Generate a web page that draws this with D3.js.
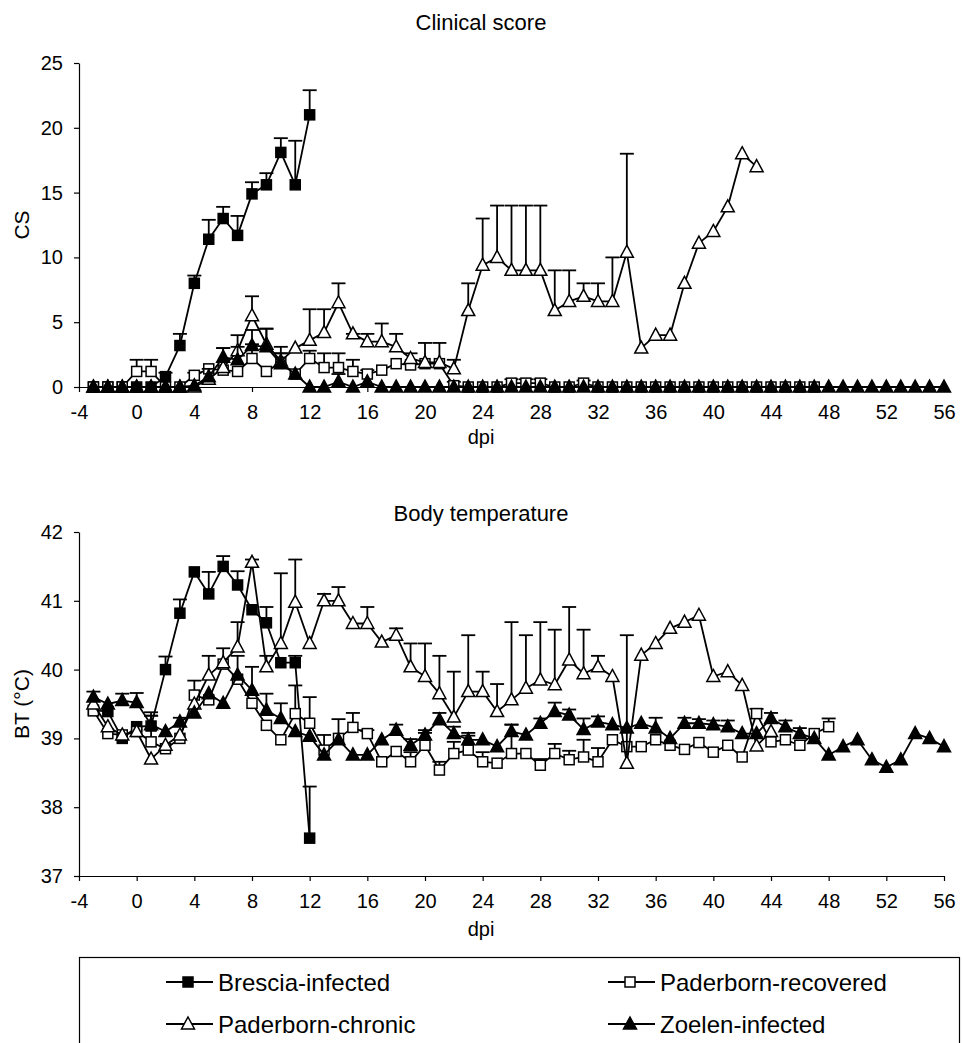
<!DOCTYPE html>
<html>
<head>
<meta charset="utf-8">
<script src="https://cdn.jsdelivr.net/npm/d3@7"></script>
<style>
body { margin: 0; background: #fff; }
text { font-family: "Liberation Sans", Arial, sans-serif; fill: #000; }
</style>
</head>
<body>
<script>
// ---- data ----
var dpi_ticks = [-4, 0, 4, 8, 12, 16, 20, 24, 28, 32, 36, 40, 44, 48, 52, 56];
var cs_ticks = [0, 5, 10, 15, 20, 25];
var bt_ticks = [37, 38, 39, 40, 41, 42];
var series_names = ["Brescia-infected", "Paderborn-recovered", "Paderborn-chronic", "Zoelen-infected"];

// clinical score
var cs_dpi_brescia = [-3,-2,-1,0,1,2,3,4,5,6,7,8,9,10,11,12];
var cs_brescia     = [0,0,0,0,0,0.8,3.2,8.0,11.4,13.0,11.7,14.9,15.6,18.1,15.6,21.0];
var cs_brescia_err = [null,null,null,null,null,1.1,4.1,8.6,12.9,13.9,13.2,15.8,16.5,19.2,19.0,22.9];

var cs_dpi_recovered = [-3,-2,-1,0,1,2,3,4,5,6,7,8,9,10,11,12,13,14,15,16,17,18,19,20,21,22,23,24,25,26,27,28,29,30,31,32,33,34,35,36,37,38,39,40,41,42,43,44,45,46,47];
var cs_recovered     = [0,0,0,1.2,1.2,0,0,0.9,1.4,1.3,1.2,2.2,1.2,1.9,1.0,2.2,1.5,1.5,1.2,1.0,1.3,1.8,1.7,1.8,1.8,0.1,0,0,0,0.3,0.3,0.3,0,0,0.3,0,0,0,0,0,0,0,0,0,0,0,0,0,0,0,0];
var cs_recovered_err = [null,null,null,2.1,2.1,null,null,1.1,null,3.0,null,3.3,null,2.6,null,2.8,2.6,2.6,2.1,1.3,null,null,null,null,null,0.4,null,null,null,0.6,0.6,0.6,null,null,0.5,null,null,null,null,null,null,null,null,null,null,null,null,null,null,null,null];

var cs_dpi_chronic = [-3,-2,-1,0,1,2,3,4,5,6,7,8,9,10,11,12,13,14,15,16,17,18,19,20,21,22,23,24,25,26,27,28,29,30,31,32,33,34,35,36,37,38,39,40,41,42,43];
var cs_chronic     = [0,0,0,0,0,0,0,0,0.6,1.5,2.8,5.5,3.3,2.0,3.0,3.6,4.2,6.5,4.1,3.5,3.5,3.1,2.2,1.9,1.9,1.4,5.9,9.4,10.0,9.0,9.0,9.0,5.9,6.6,7.0,6.6,6.6,10.4,3.0,4.0,4.0,8.0,11.1,12.0,13.9,18.0,17.0];
var cs_chronic_err = [null,null,null,null,null,null,null,null,null,null,4.0,7.0,4.5,3.1,null,6.0,6.0,8.0,4.1,4.1,4.9,4.1,2.6,3.4,3.4,2.1,8.0,13.0,14.0,14.0,14.0,14.0,9.0,9.0,8.0,8.0,10.0,18.0,null,null,null,null,null,null,null,null,null];

var cs_dpi_zoelen = [-3,-2,-1,0,1,2,3,4,5,6,7,8,9,10,11,12,13,14,15,16,17,18,19,20,21,22,23,24,25,26,27,28,29,30,31,32,33,34,35,36,37,38,39,40,41,42,43,44,45,46,47,48,49,50,51,52,53,54,55,56];
var cs_zoelen     = [0,0,0,0,0,0,0,0.1,0.8,2.3,2.1,3.2,3.1,1.8,1.0,0,0,0.4,0,0.4,0,0,0,0,0,0,0,0,0,0,0,0,0,0,0,0,0,0,0,0,0,0,0,0,0,0,0,0,0,0,0,0,0,0,0,0,0,0,0,0];
var cs_zoelen_err = [null,null,null,null,null,null,null,null,1.4,3.0,3.1,4.4,4.5,2.6,null,null,null,1.0,null,null,null,null,null,null,null,null,null,null,null,null,null,null,null,null,null,null,null,null,null,null,null,null,null,null,null,null,null,null,null,null,null,null,null,null,null,null,null,null,null,null];

// body temperature
var bt_dpi_brescia = [-3,-2,-1,0,1,2,3,4,5,6,7,8,9,10,11,12];
var bt_brescia     = [39.41,39.39,39.0,39.17,39.18,40.0,40.82,41.42,41.1,41.5,41.23,40.87,40.68,40.1,40.1,37.55];
var bt_brescia_err = [null,null,null,null,39.38,40.19,41.02,null,41.42,41.65,41.43,null,40.91,null,40.2,38.3];

var bt_dpi_recovered = [-3,-2,-1,0,1,2,3,4,5,6,7,8,9,10,11,12,13,14,15,16,17,18,19,20,21,22,23,24,25,26,27,28,29,30,31,32,33,34,35,36,37,38,39,40,41,42,43,44,45,46,47,48];
var bt_recovered     = [39.4,39.07,39.05,39.1,38.95,38.85,39.0,39.63,39.56,40.08,39.86,39.51,39.19,38.98,39.36,39.22,38.83,39.0,39.16,39.07,38.66,38.81,38.66,38.9,38.54,38.78,38.83,38.66,38.64,38.78,38.78,38.61,38.78,38.69,38.73,38.66,38.98,38.88,38.88,38.98,38.9,38.84,38.94,38.8,38.9,38.73,39.36,38.95,38.98,38.9,39.07,39.17];
var bt_recovered_err = [null,null,null,null,39.33,null,null,39.84,null,40.31,null,null,null,null,39.77,39.6,39.05,null,39.37,39.12,null,null,38.8,39.08,38.66,38.95,39.04,38.8,null,39.2,null,38.7,38.92,38.82,38.98,38.86,null,null,null,null,null,null,null,null,null,null,39.43,null,null,null,null,39.29];

var bt_dpi_chronic = [-3,-2,-1,0,1,2,3,4,5,6,7,8,9,10,11,12,13,14,15,16,17,18,19,20,21,22,23,24,25,26,27,28,29,30,31,32,33,34,35,36,37,38,39,40,41,42,43,44];
var bt_chronic     = [39.5,39.17,39.05,39.1,38.7,38.9,39.05,39.5,39.92,40.1,40.33,41.56,40.04,40.38,40.98,40.38,41.0,41.0,40.67,40.67,40.4,40.5,40.04,39.9,39.65,39.31,39.68,39.68,39.39,39.56,39.73,39.85,39.78,40.14,39.94,40.04,39.9,38.64,40.21,40.38,40.6,40.69,40.79,39.9,39.97,39.77,38.89,39.1];
var bt_chronic_err = [null,null,null,null,null,null,null,null,40.2,null,40.69,41.6,40.2,41.4,41.6,null,41.1,41.2,null,40.91,null,40.6,40.38,40.38,40.2,39.97,40.5,39.97,39.79,40.69,40.5,40.69,40.58,40.91,40.58,40.2,null,40.5,null,null,null,null,null,null,null,null,null,null];

var bt_dpi_zoelen = [-3,-2,-1,0,1,2,3,4,5,6,7,8,9,10,11,12,13,14,15,16,17,18,19,20,21,22,23,24,25,26,27,28,29,30,31,32,33,34,35,36,37,38,39,40,41,42,43,44,45,46,47,48,49,50,51,52,53,54,55,56];
var bt_zoelen     = [39.6,39.5,39.55,39.52,39.2,39.1,39.24,39.37,39.65,39.51,39.92,39.7,39.41,39.29,39.1,39.03,38.76,38.98,38.76,38.76,38.98,39.12,38.9,39.05,39.27,39.07,38.98,38.98,38.88,39.1,39.05,39.22,39.39,39.34,39.13,39.24,39.2,39.15,39.22,39.15,39.0,39.22,39.22,39.2,39.17,39.07,39.07,39.29,39.17,39.07,39.0,38.76,38.88,38.98,38.69,38.58,38.69,39.07,39.0,38.88];
var bt_zoelen_err = [39.68,null,39.65,39.66,39.33,null,39.3,null,null,null,40.2,40.04,39.65,39.51,null,null,null,39.28,null,null,null,39.2,38.99,39.12,39.37,39.17,39.08,null,null,39.2,null,39.29,39.52,39.42,39.29,39.32,null,null,null,39.3,null,39.3,39.28,39.26,39.26,null,null,39.37,39.26,39.15,null,null,null,null,null,null,null,null,null,null];

// ---- layout ----
var svg_width = 963;
var svg_height = 1043;
var x_left = 79;
var x_right = 944;
var font_tick = 20;

var svg = d3.select("body")
    .append("svg")
    .attr("width", svg_width)
    .attr("height", svg_height);

var xscale = d3.scaleLinear().domain([-4, 56]).range([x_left, x_right]);

// marker per series: filled square, open square, open triangle, filled triangle
var marker_shape = ["square", "square", "triangle", "triangle"];
var marker_fill = ["#000", "#fff", "#fff", "#000"];

function plainNumber(d)
{
    return String(d); // keeps the plain hyphen for -4
}

function drawMarker(g, shape, fill, x, y)
{
    if(shape == "square")
    {
        g.append("rect")
            .attr("x", x - 5).attr("y", y - 5)
            .attr("width", 10).attr("height", 10)
            .attr("fill", fill)
            .attr("stroke", "#000")
            .attr("stroke-width", 1.5);
    }
    else
    {
        g.append("path")
            .attr("d", "M" + x + "," + (y - 7) + "L" + (x + 6.5) + "," + (y + 5) + "L" + (x - 6.5) + "," + (y + 5) + "Z")
            .attr("fill", fill)
            .attr("stroke", "#000")
            .attr("stroke-width", 1.5);
    }
}

function drawChart(cfg)
{
    var yscale = d3.scaleLinear().domain(cfg.domain).range(cfg.range);
    var g = svg.append("g");

    var xaxis = g.append("g")
        .attr("transform", "translate(0," + cfg.range[0] + ")")
        .call(d3.axisBottom(xscale).tickValues(dpi_ticks).tickFormat(plainNumber)
            .tickSize(5).tickSizeOuter(0).tickPadding(13));
    var yaxis = g.append("g")
        .attr("transform", "translate(" + x_left + ",0)")
        .call(d3.axisLeft(yscale).tickValues(cfg.ticks).tickFormat(plainNumber)
            .tickSize(5).tickSizeOuter(0).tickPadding(11));
    [xaxis, yaxis].forEach(function(a)
    {
        a.selectAll("path").attr("stroke", "#000").attr("stroke-width", 1.2);
        a.selectAll("line").attr("stroke", "#000").attr("stroke-width", 1.2);
        a.selectAll("text").style("font-size", font_tick + "px").attr("fill", "#000")
            .style("font-family", "'Liberation Sans', Arial, sans-serif");
    });

    g.append("text")
        .attr("x", 481).attr("y", cfg.title_y)
        .attr("text-anchor", "middle")
        .style("font-size", "22px")
        .text(cfg.title);
    g.append("text")
        .attr("x", 481).attr("y", cfg.xlabel_y)
        .attr("text-anchor", "middle")
        .style("font-size", "20px")
        .text("dpi");
    g.append("text")
        .attr("transform", "translate(" + 29 + "," + cfg.ylabel_mid + ") rotate(-90)")
        .attr("text-anchor", "middle")
        .style("font-size", "21px")
        .text(cfg.ylabel);

    var line = d3.line()
        .x(function(d) { return xscale(d.d); })
        .y(function(d) { return yscale(d.v); });

    cfg.data.forEach(function(s, k)
    {
        var pts = s.dpi.map(function(d, i) { return {d: d, v: s.values[i], e: s.err[i]}; });
        var sg = g.append("g");
        sg.append("path")
            .datum(pts)
            .attr("d", line)
            .attr("fill", "none")
            .attr("stroke", "#000")
            .attr("stroke-width", 1.8)
            .attr("stroke-linejoin", "round");
        pts.forEach(function(p)
        {
            if(p.e != null)
            {
                var px = xscale(p.d);
                sg.append("line")
                    .attr("x1", px).attr("x2", px)
                    .attr("y1", yscale(p.v)).attr("y2", yscale(p.e))
                    .attr("stroke", "#000").attr("stroke-width", 1.8);
                sg.append("line")
                    .attr("x1", px - 7).attr("x2", px + 7)
                    .attr("y1", yscale(p.e)).attr("y2", yscale(p.e))
                    .attr("stroke", "#000").attr("stroke-width", 1.8);
            }
        });
        pts.forEach(function(p)
        {
            drawMarker(sg, marker_shape[k], marker_fill[k], xscale(p.d), yscale(p.v));
        });
    });
}

drawChart({
    title: "Clinical score", title_y: 30,
    ylabel: "CS", ylabel_mid: 225,
    xlabel_y: 444,
    domain: [0, 25], range: [387, 63], ticks: cs_ticks,
    data: [
        {dpi: cs_dpi_brescia, values: cs_brescia, err: cs_brescia_err},
        {dpi: cs_dpi_recovered, values: cs_recovered, err: cs_recovered_err},
        {dpi: cs_dpi_chronic, values: cs_chronic, err: cs_chronic_err},
        {dpi: cs_dpi_zoelen, values: cs_zoelen, err: cs_zoelen_err}
    ]
});

drawChart({
    title: "Body temperature", title_y: 521,
    ylabel: "BT (°C)", ylabel_mid: 704,
    xlabel_y: 936,
    domain: [37, 42], range: [876, 532], ticks: bt_ticks,
    data: [
        {dpi: bt_dpi_brescia, values: bt_brescia, err: bt_brescia_err},
        {dpi: bt_dpi_recovered, values: bt_recovered, err: bt_recovered_err},
        {dpi: bt_dpi_chronic, values: bt_chronic, err: bt_chronic_err},
        {dpi: bt_dpi_zoelen, values: bt_zoelen, err: bt_zoelen_err}
    ]
});

// ---- legend ----
var legend = svg.append("g");
legend.append("rect")
    .attr("x", 79.5).attr("y", 957.5)
    .attr("width", 880).attr("height", 100)
    .attr("fill", "none")
    .attr("stroke", "#000")
    .attr("stroke-width", 1.2);
var legend_pos = [[166, 982], [608, 982], [166, 1024], [608, 1024]];
series_names.forEach(function(name, k)
{
    var lx = legend_pos[k][0], ly = legend_pos[k][1];
    legend.append("line")
        .attr("x1", lx).attr("x2", lx + 47)
        .attr("y1", ly).attr("y2", ly)
        .attr("stroke", "#000").attr("stroke-width", 1.8);
    drawMarker(legend, marker_shape[k], marker_fill[k], lx + 22, ly);
    legend.append("text")
        .attr("x", lx + 52).attr("y", ly + 8.5)
        .style("font-size", "24px")
        .text(name);
});
</script>
</body>
</html>
